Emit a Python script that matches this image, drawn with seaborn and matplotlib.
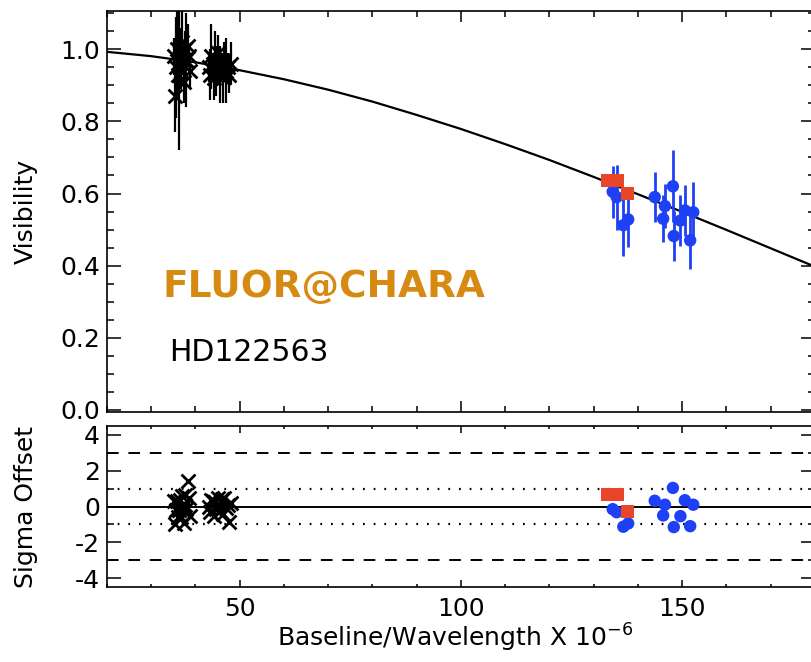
import matplotlib
matplotlib.use("Agg")
import matplotlib.pyplot as plt
import numpy as np
import pandas as pd
import seaborn as sns
from matplotlib.ticker import MultipleLocator

# ---------------- data ----------------
# model curve
model_x = [20, 30, 40, 50, 60, 70, 80, 90, 100, 110, 120, 130, 140, 150, 160, 170, 180]
model_v = [0.993, 0.981, 0.964, 0.942, 0.917, 0.888, 0.855, 0.818, 0.779, 0.737,
           0.693, 0.646, 0.598, 0.549, 0.499, 0.448, 0.397]

# black (short baselines) cluster 1
k1_x = [35.2, 35.5, 35.7, 35.9, 36.1, 36.3, 36.4, 36.6, 36.8, 37.0, 37.2, 37.4, 37.6, 37.8, 38.0, 38.3, 38.6, 38.9]
k1_v = [0.98, 0.87, 0.95, 1.00, 0.93, 0.96, 0.93, 0.99, 0.94, 1.02, 0.96, 0.91, 1.00, 0.97, 0.97, 1.01, 0.98, 0.94]
k1_err = [0.05, 0.10, 0.14, 0.12, 0.06, 0.04, 0.21, 0.07, 0.05, 0.09, 0.03, 0.06, 0.05, 0.04, 0.13, 0.06, 0.03, 0.05]
k1_sig = [0.3, -1.0, -0.2, 0.3, -0.6, -0.2, -0.2, 0.35, -0.6, 0.6, -0.2, -0.95, 0.65, 0.1, -0.15, 1.4, 0.45, -0.55]

# black cluster 2
k2_x = [43.0, 43.3, 43.6, 43.9, 44.2, 44.5, 44.8, 45.1, 45.4, 45.7, 46.0, 46.3, 46.6, 46.9, 47.3, 47.7, 48.1]
k2_v = [0.95, 0.93, 0.98, 0.96, 0.92, 0.97, 0.94, 0.99, 0.95, 0.93, 0.96, 0.92, 0.97, 0.94, 0.95, 0.93, 0.96]
k2_err = [0.04, 0.07, 0.09, 0.03, 0.06, 0.08, 0.07, 0.05, 0.04, 0.08, 0.03, 0.07, 0.05, 0.09, 0.04, 0.05, 0.06]
k2_sig = [0.0, -0.3, 0.35, 0.3, -0.55, 0.25, -0.15, 0.45, 0.05, -0.25, 0.4, -0.4, 0.45, -0.1, 0.1, -0.85, 0.2]

# red squares
red_x = [133.2, 135.5, 137.6]
red_v = [0.637, 0.637, 0.600]
red_sig = [0.67, 0.67, -0.3]

# blue circles
blue_x = [134.3, 135.2, 136.7, 137.8, 143.8, 145.7, 146.1, 147.9, 148.1, 149.6, 150.6, 151.8, 152.5]
blue_v = [0.605, 0.590, 0.512, 0.528, 0.590, 0.530, 0.565, 0.620, 0.482, 0.525, 0.553, 0.470, 0.548]
blue_err = [0.072, 0.09, 0.085, 0.076, 0.07, 0.065, 0.06, 0.10, 0.07, 0.07, 0.07, 0.08, 0.085]
blue_sig = [-0.15, -0.32, -1.13, -0.95, 0.32, -0.5, 0.1, 1.04, -1.15, -0.54, 0.35, -1.1, 0.1]

vis_ticks = [0.0, 0.2, 0.4, 0.6, 0.8, 1.0]
vis_labels = ["0.0", "0.2", "0.4", "0.6", "0.8", "1.0"]
sig_ticks = [-4, -2, 0, 2, 4]
x_ticks = [50, 100, 150]

BLUE = "#1f41f5"
RED = "#e8452a"
ORANGE = "#d68a12"

# ---------------- style ----------------
sns.set_theme(style="ticks")
plt.rcParams["font.family"] = ["DejaVu Sans"]
plt.rcParams["mathtext.fontset"] = "dejavusans"
plt.rcParams["axes.labelcolor"] = "black"
plt.rcParams["text.color"] = "black"
FS = 18

W, H = 812, 662
fig = plt.figure(figsize=(W / 100, H / 100), dpi=100)
left, right = 106.7, 815.0
ax1 = fig.add_axes([left / W, 1 - 412 / H, (right - left) / W, (412 - 10.7) / H])
ax2 = fig.add_axes([left / W, 1 - 587 / H, (right - left) / W, (587 - 426) / H])

k_x = k1_x + k2_x
k_v = k1_v + k2_v
k_err = k1_err + k2_err
k_sig = k1_sig + k2_sig

# ---- top panel ----
sns.lineplot(x=model_x, y=model_v, ax=ax1, color="black", linewidth=1.6, zorder=2)
ax1.errorbar(k_x, k_v, yerr=k_err, fmt="none", ecolor="black", elinewidth=1.6, capsize=0, zorder=3)
sns.scatterplot(x=k_x, y=k_v, ax=ax1, marker="x", color="black", s=100, linewidth=2.0, zorder=4)
ax1.errorbar(blue_x, blue_v, yerr=blue_err, fmt="none", ecolor=BLUE, elinewidth=2.0, capsize=0, zorder=3)
sns.scatterplot(x=blue_x, y=blue_v, ax=ax1, marker="o", color=BLUE, s=80, edgecolor="none", zorder=5)
sns.scatterplot(x=red_x, y=red_v, ax=ax1, marker="s", color=RED, s=85, edgecolor="none", zorder=6)

ax1.set_xlim(20, 180)
ax1.set_ylim(-0.006, 1.107)
ax1.set_yticks(vis_ticks)
ax1.set_yticklabels(vis_labels)
ax1.yaxis.set_minor_locator(MultipleLocator(0.05))
ax1.set_xticks(x_ticks)
ax1.xaxis.set_minor_locator(MultipleLocator(10))
ax1.tick_params(axis="x", labelbottom=False)
ax1.set_xlabel("")
ax1.set_ylabel("Visibility", fontsize=FS, color="black")

ax1.text(32.6, 0.34, "FLUOR@CHARA", color=ORANGE, fontsize=27, fontweight="bold",
         ha="left", va="center")
ax1.text(34.2, 0.159, "HD122563", color="black", fontsize=21.5, ha="left", va="center")

# ---- bottom panel ----
ax2.axhline(0, color="black", linewidth=1.4, zorder=1)
for yv in (3, -3):
    ax2.axhline(yv, color="black", linewidth=1.4, linestyle=(0, (6, 5)), zorder=1)
for yv in (1, -1):
    ax2.axhline(yv, color="black", linewidth=1.6, linestyle=(0, (0.8, 4)), zorder=1)
sns.scatterplot(x=k_x, y=k_sig, ax=ax2, marker="x", color="black", s=100, linewidth=2.0, zorder=4)
sns.scatterplot(x=blue_x, y=blue_sig, ax=ax2, marker="o", color=BLUE, s=80, edgecolor="none", zorder=5)
sns.scatterplot(x=red_x, y=red_sig, ax=ax2, marker="s", color=RED, s=85, edgecolor="none", zorder=6)

ax2.set_xlim(20, 180)
ax2.set_ylim(-4.5, 4.5)
ax2.set_yticks(sig_ticks)
ax2.set_yticklabels([str(t) for t in sig_ticks])
ax2.yaxis.set_minor_locator(MultipleLocator(1))
ax2.set_xticks(x_ticks)
ax2.set_xticklabels([str(t) for t in x_ticks])
ax2.xaxis.set_minor_locator(MultipleLocator(10))
ax2.set_ylabel("Sigma Offset", fontsize=FS, color="black")
ax2.set_xlabel("Baseline/Wavelength X 10$^{-6}$", fontsize=FS, color="black")

for ax in (ax1, ax2):
    for sp in ax.spines.values():
        sp.set_linewidth(1.2)
        sp.set_color("black")
        sp.set_visible(True)
    ax.tick_params(which="both", direction="in", top=True, right=True, bottom=True, left=True,
                   colors="black", labelcolor="black", labelsize=FS, width=1.1)
    ax.grid(False)

ax1.tick_params(axis="y", which="major", length=10, pad=5)
ax1.tick_params(axis="y", which="minor", length=5)
ax1.tick_params(axis="x", which="major", length=8)
ax1.tick_params(axis="x", which="minor", length=4)
ax2.tick_params(axis="y", which="major", length=10, pad=5)
ax2.tick_params(axis="y", which="minor", length=5)
ax2.tick_params(axis="x", which="major", length=5, pad=7)
ax2.tick_params(axis="x", which="minor", length=2.5)

ax1.yaxis.set_label_coords(-0.097, 0.5)
ax2.yaxis.set_label_coords(-0.097, 0.5)
ax2.xaxis.set_label_coords(0.492, -0.215)

fig.savefig("out.png", dpi=100)
